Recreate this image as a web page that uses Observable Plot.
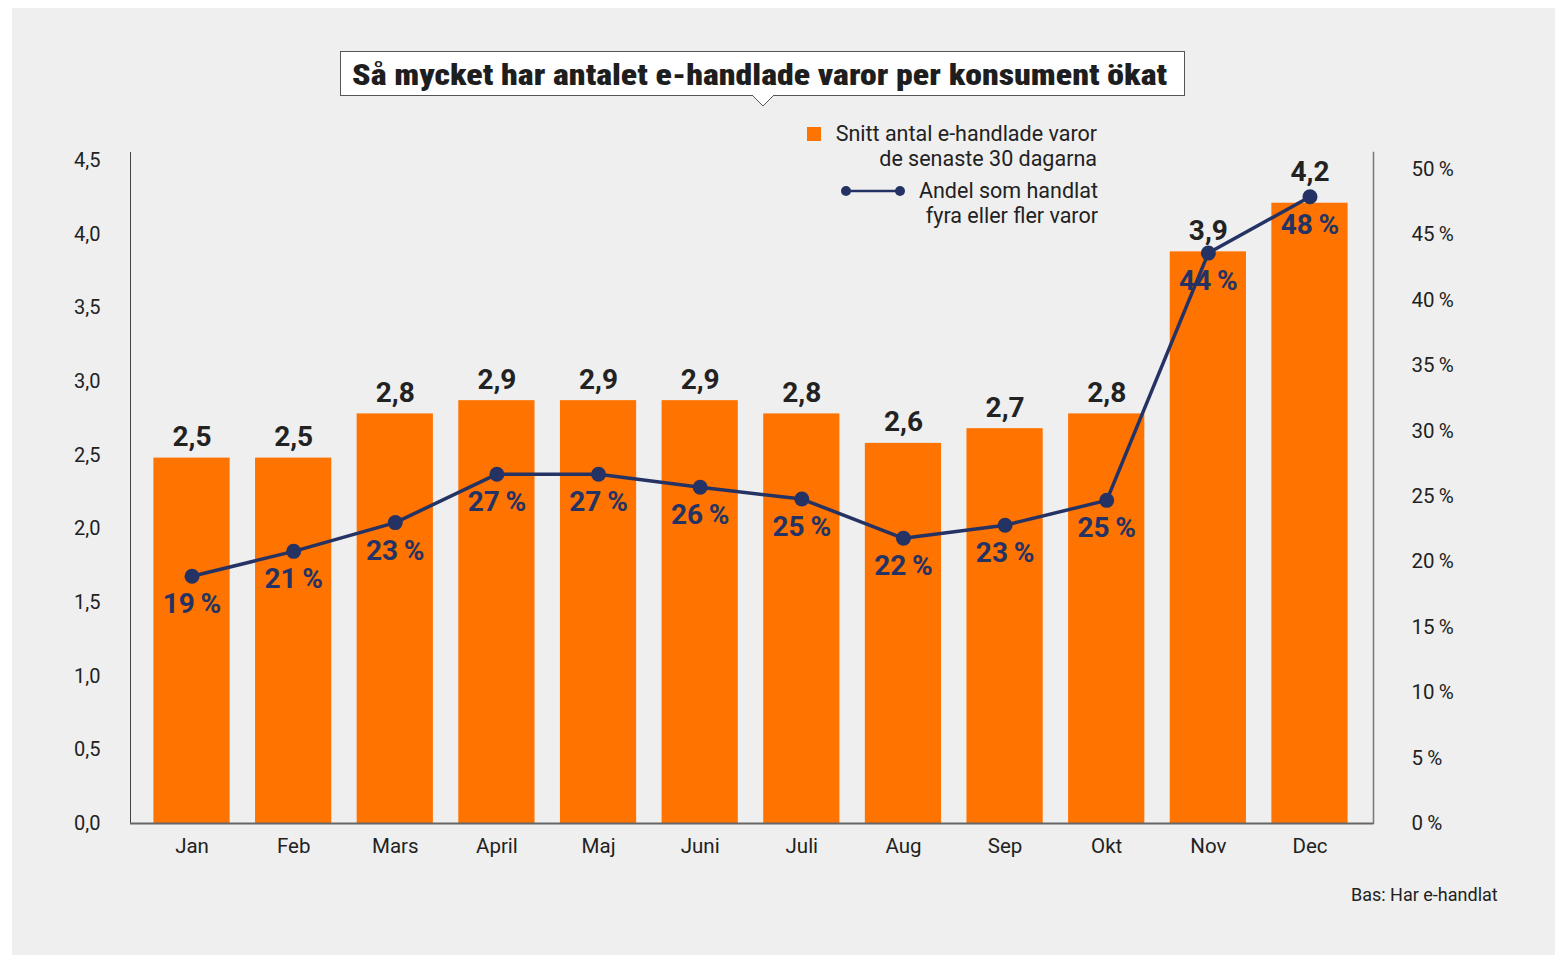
<!DOCTYPE html>
<html>
<head>
<meta charset="utf-8">
<script src="https://cdn.jsdelivr.net/npm/d3@7"></script>
<script src="https://cdn.jsdelivr.net/npm/@observablehq/plot@0.6"></script>
<style>
  html, body { margin: 0; padding: 0; background: #ffffff; width: 1557px; height: 956px; overflow: hidden; }
  #panel { position: absolute; left: 12px; top: 8px; width: 1543px; height: 947px; background: #efefef; }
  #chart { position: absolute; left: 0; top: 0; }
  #titlebox { position: absolute; left: 340px; top: 51px; width: 845px; height: 45px; background: #fff; border: 1px solid #555; box-sizing: border-box; overflow: visible; }
  #title { position: absolute; left: 0; top: 50%; white-space: nowrap; font-family: "Roboto Condensed", "Liberation Sans Narrow", "DejaVu Sans", sans-serif; font-stretch: condensed; font-weight: 900; font-size: 30px; color: #1e1e1e; transform-origin: 0 50%; }
  #pointer { position: absolute; left: 752px; top: 95px; }
  .leg { position: absolute; font-family: Roboto, "Noto Sans", sans-serif; font-size: 21.5px; color: #222; line-height: 25px; text-align: right; }
  #foot { position: absolute; left: 1351px; top: 884px; font-family: Roboto, "Noto Sans", sans-serif; font-size: 18px; color: #222; }
</style>
</head>
<body>
<div id="panel"></div>
<div id="chart"></div>
<div id="titlebox"><span id="title">Så mycket har antalet e-handlade varor per konsument ökat</span></div>
<svg id="pointer" width="22" height="14"><polygon points="0,0 22,0 11,11" fill="#fff"/><polyline points="0,0 11,11 22,0" fill="none" stroke="#555" stroke-width="1"/></svg>
<div class="leg" id="leg1" style="right:460px; top:121px;">Snitt antal e-handlade varor<br>de senaste 30 dagarna</div>
<div class="leg" id="leg2" style="right:459px; top:178px;">Andel som handlat<br>fyra eller fler varor</div>
<svg style="position:absolute; left:806px; top:126px;" width="16" height="16"><rect x="1" y="1" width="14" height="14" fill="#ff7300"/></svg>
<svg style="position:absolute; left:838px; top:183px;" width="72" height="16"><line x1="8" y1="8" x2="62" y2="8" stroke="#253364" stroke-width="2.5"/><circle cx="8" cy="8" r="5" fill="#253364"/><circle cx="62" cy="8" r="5" fill="#253364"/></svg>
<div id="foot">Bas: Har e-handlat</div>
<script>
// ---- Data ----
const months = ["Jan", "Feb", "Mars", "April", "Maj", "Juni", "Juli", "Aug", "Sep", "Okt", "Nov", "Dec"];
const avgItems = [2.48, 2.48, 2.78, 2.87, 2.87, 2.87, 2.78, 2.58, 2.68, 2.78, 3.88, 4.21];
const shareFourPlus = [18.9, 20.8, 23.0, 26.7, 26.7, 25.7, 24.8, 21.8, 22.8, 24.7, 43.6, 47.9];
const leftTicks = [0, 0.5, 1, 1.5, 2, 2.5, 3, 3.5, 4, 4.5];
const rightTicks = [0, 5, 10, 15, 20, 25, 30, 35, 40, 45, 50];

// percent -> left axis units (right axis 50 % sits slightly below 4,5)
const k = 4.44 / 50;

const data = months.map((m, i) => ({
  month: m,
  avg: avgItems[i],
  share: shareFourPlus[i],
  shareY: shareFourPlus[i] * k
}));

const fmtDec = d => d.toFixed(1).replace(".", ",");
const fmtPct = d => Math.round(d) + "\u2009%";

const orange = "#ff7300";
const navy = "#253364";

const chart = Plot.plot({
  width: 1557,
  height: 900,
  marginLeft: 130,
  marginRight: 184,
  marginTop: 152,
  marginBottom: 77,
  style: { fontFamily: "Roboto, 'Noto Sans', sans-serif", fontSize: "20px", color: "#222", background: "transparent", overflow: "visible" },
  x: { type: "band", domain: months, paddingInner: 0.25, paddingOuter: 0.25, round: false, insetLeft: -2, label: null },
  y: { domain: [0, 4.5], insetTop: 8, label: null },
  marks: [
    Plot.barY(data, { x: "month", y: "avg", fill: orange }),
    Plot.frame({ anchor: "left", stroke: "#444", strokeWidth: 1 }),
    Plot.frame({ anchor: "right", stroke: "#777", strokeWidth: 1.5 }),
    Plot.ruleY([0], { stroke: "#666", strokeWidth: 2 }),
    Plot.axisY({ ticks: leftTicks, tickFormat: fmtDec, tickSize: 0, tickPadding: 30, fontSize: 20, label: null }),
    Plot.axisY({ anchor: "right", ticks: rightTicks.map(p => p * k), tickFormat: d => fmtPct(d / k), tickSize: 0, tickPadding: 38, fontSize: 20.5, label: null }),
    Plot.axisX({ tickSize: 0, tickPadding: 15, fontSize: 20.5, label: null }),
    // bar value labels
    Plot.text(data.filter(d => d.shareY <= d.avg), { x: "month", y: "avg", text: d => fmtDec(d.avg), dy: -21, fontSize: 28, fontWeight: "bold", fill: "#222" }),
    Plot.text(data.filter(d => d.shareY > d.avg), { x: "month", y: "avg", text: d => fmtDec(d.avg), dy: -31, fontSize: 28, fontWeight: "bold", fill: "#222" }),
    // share line
    Plot.line(data, { x: "month", y: "shareY", stroke: navy, strokeWidth: 3.5 }),
    Plot.dot(data, { x: "month", y: "shareY", r: 7.5, fill: navy }),
    Plot.text(data, { x: "month", y: "shareY", text: d => fmtPct(d.share), dy: 28, fontSize: 28, fontWeight: "bold", fill: navy })
  ]
});
document.getElementById("chart").appendChild(chart);

// fit title to the box width
const t = document.getElementById("title");
const w = t.getBoundingClientRect().width;
const target = 815;
t.style.left = "11px";
t.style.transform = `translateY(-50%) scaleX(${target / w})`;
</script>
</body>
</html>
